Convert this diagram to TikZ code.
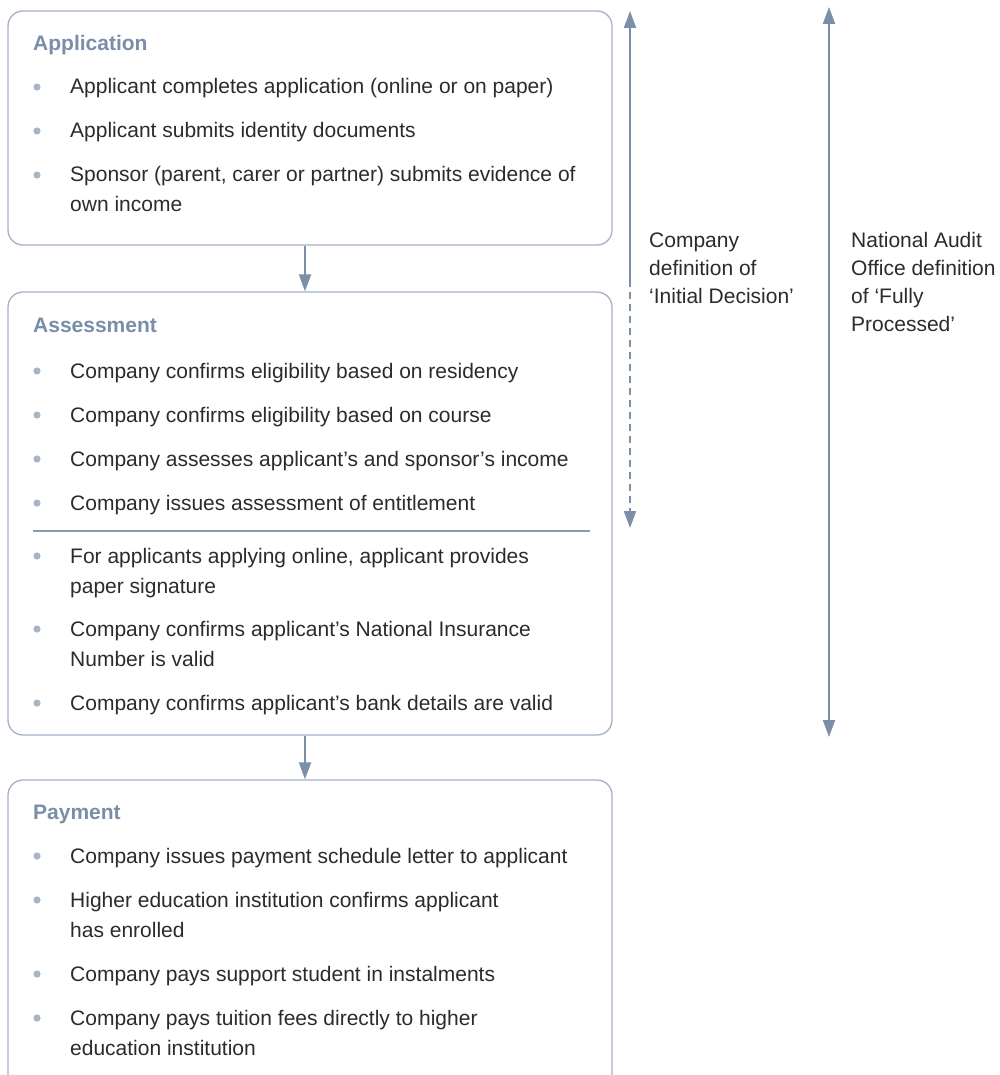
\documentclass[tikz,border=0pt]{standalone}
\usepackage{fontspec}
\setmainfont{Liberation Sans}
\usetikzlibrary{arrows.meta}
\definecolor{arrowc}{HTML}{7B8FA8}
\definecolor{boxc}{HTML}{A3B2C4}
\definecolor{titlec}{HTML}{7A8EA8}
\definecolor{dotc}{HTML}{A8B5C3}
\definecolor{txtc}{HTML}{2B2B2B}
\definecolor{rulec}{HTML}{8A9BB0}
\tikzset{
  stagebox/.style={draw=boxc, line width=1.3pt, rounded corners=15pt, inner sep=0pt},
  stagetitle/.style={anchor=base west, inner sep=0pt, text=titlec,
    font=\fontsize{21}{24}\selectfont\bfseries},
  item/.style={anchor=base west, inner sep=0pt, align=left, text=txtc,
    font=\fontsize{21}{30}\selectfont},
  tip/.tip={Triangle[length=17pt,width=12pt]},
  flow/.style={draw=arrowc, line width=2pt, -tip},
  span/.style={draw=arrowc, line width=2pt, -tip},
  sidelabel/.style={anchor=base west, inner sep=0pt, align=left, text=txtc,
    font=\fontsize{21}{28}\selectfont},
}
% one-line bullet point: name, baseline y, text
\newcommand\bitem[3]{%
  \node[item] (#1) at (70,#2) {#3};
  \fill[dotc] (37,{#2-7}) circle (3.6);
}
% two-line bullet point: name, first baseline y, first line, second line
\newcommand\bitemii[4]{%
  \node[item] (#1) at (70,{#2+30}) {#3\\#4};
  \fill[dotc] (37,{#2-7}) circle (3.6);
}
\begin{document}
\begin{tikzpicture}[x=1pt,y=-1pt]
\useasboundingbox (0,0) rectangle (1000,1075);
\clip (0,0) rectangle (1000,1075);

% stage boxes
\node[stagebox, minimum width=604pt, minimum height=234pt] (app) at (310,128) {};
\node[stagebox, minimum width=604pt, minimum height=443pt] (ass) at (310,513.5) {};
\node[stagebox, minimum width=604pt, minimum height=320pt] (pay) at (310,940) {};

% Application
\node[stagetitle] (tapp) at (33,51) {Application};
\bitem{a1}{94}{Applicant completes application (online or on paper)}
\bitem{a2}{138}{Applicant submits identity documents}
\bitemii{a3}{182}{Sponsor (parent, carer or partner) submits evidence of}{own income}

% Assessment
\node[stagetitle] (tass) at (33,332) {Assessment};
\bitem{b1}{378}{Company confirms eligibility based on residency}
\bitem{b2}{422}{Company confirms eligibility based on course}
\bitem{b3}{466}{Company assesses applicant’s and sponsor’s income}
\bitem{b4}{510}{Company issues assessment of entitlement}
\coordinate (sepL) at (33,531);
\coordinate (sepR) at (590,531);
\draw[rulec, line width=1.1pt] (sepL) -- (sepR);
\bitemii{b5}{563}{For applicants applying online, applicant provides}{paper signature}
\bitemii{b6}{636}{Company confirms applicant’s National Insurance}{Number is valid}
\bitem{b7}{710}{Company confirms applicant’s bank details are valid}

% Payment
\node[stagetitle] (tpay) at (33,819) {Payment};
\bitem{c1}{863}{Company issues payment schedule letter to applicant}
\bitemii{c2}{907}{Higher education institution confirms applicant}{has enrolled}
\bitem{c3}{981}{Company pays support student in instalments}
\bitemii{c4}{1025}{Company pays tuition fees directly to higher}{education institution}

% flow between stages
\draw[flow] ([xshift=-5pt]app.south) -- ([xshift=-5pt]ass.north);
\draw[flow] ([xshift=-5pt]ass.south) -- ([xshift=-5pt]pay.north);

% company span
\coordinate (cTop) at (630,11);
\coordinate (cMid) at (630,280);
\coordinate (cBot) at (630,528);
\draw[span] (cMid) -- (cTop);
\draw[span, dash pattern=on 7pt off 5pt] (cMid) -- (cBot);
\node[sidelabel] (clab) at (649,303) {Company\\definition of\\‘Initial Decision’};

% audit office span
\coordinate (nTop) at (829,7);
\coordinate (nBot) at (829,737);
\draw[span, tip-tip] (nTop) -- (nBot);
\node[sidelabel] (nlab) at (851,331) {National Audit\\Office definition\\of ‘Fully\\Processed’};
\end{tikzpicture}
\end{document}
